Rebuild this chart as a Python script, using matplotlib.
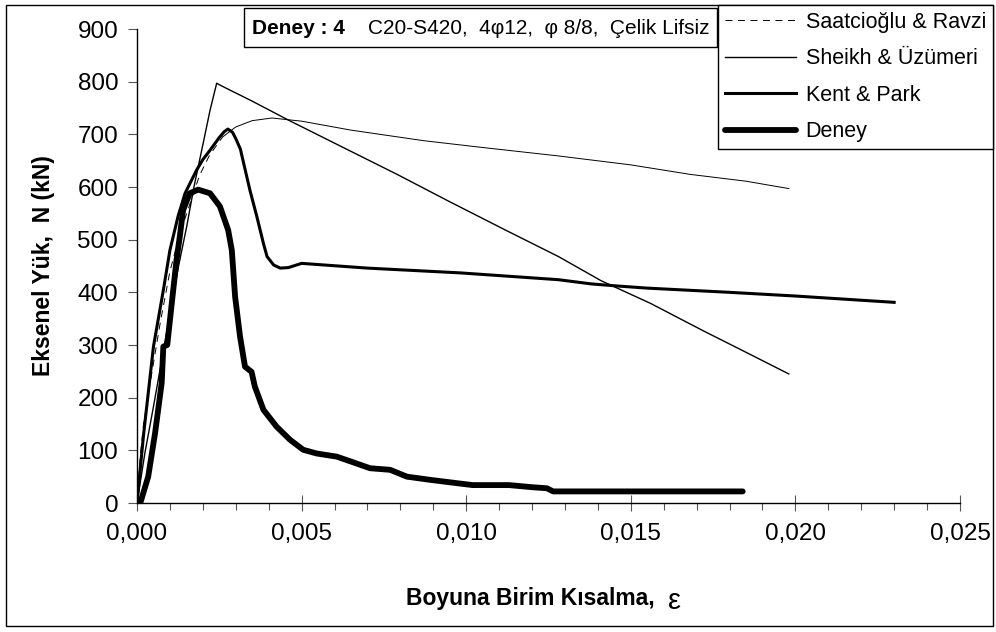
import matplotlib
matplotlib.use("Agg")
import matplotlib.pyplot as plt
from matplotlib.ticker import MultipleLocator, FuncFormatter
from matplotlib.patches import Rectangle

plt.rcParams['font.family'] = ['Liberation Sans', 'DejaVu Sans']
plt.rcParams['lines.scale_dashes'] = False

# Saatcioğlu & Ravzi
saat_x = [0, 0.0001, 0.0002, 0.0004, 0.0007, 0.001, 0.0013, 0.0015, 0.0019, 0.0022,
          0.0026, 0.003, 0.0035, 0.0041, 0.005, 0.0065, 0.0087, 0.0105, 0.0128,
          0.015, 0.0168, 0.0185, 0.0198]
saat_y = [0, 90, 150, 228, 340, 440, 510, 548, 622, 660,
          695, 714, 726, 731, 725, 708, 688, 675, 659,
          642, 624, 611, 597]
saat_dash_end = 10  # the first long segments show dashes, the rest looks solid

# Sheikh & Üzümeri
sheikh_x = [0, 0.00024, 0.0005, 0.00075, 0.001, 0.00126, 0.00151, 0.00173, 0.00201,
            0.00222, 0.00242, 0.0026, 0.0035, 0.0046, 0.0062, 0.0079, 0.0095,
            0.0112, 0.0128, 0.0141, 0.0156, 0.0172, 0.0186, 0.0198]
sheikh_y = [0, 95, 183, 271, 360, 449, 525, 600, 683,
            746, 797, 791, 763, 727, 677, 624, 572,
            518, 468, 422, 379, 327, 283, 245]

# Kent & Park
kent_x = [0, 0.0002, 0.0005, 0.0008, 0.001, 0.00125, 0.00146, 0.00165, 0.00181, 0.002,
          0.00222, 0.0025, 0.00265, 0.00276, 0.0029, 0.003, 0.00314, 0.00343, 0.00364,
          0.00384, 0.00395, 0.00415, 0.00435, 0.0046, 0.005, 0.007, 0.0098, 0.0128,
          0.0138, 0.0146, 0.0155, 0.018, 0.020, 0.023]
kent_y = [0, 130, 297, 404, 480, 545, 588, 612, 632, 652,
          670, 694, 705, 710, 704, 692, 672, 594, 544,
          493, 468, 452, 446, 447, 455, 446, 437, 424,
          416, 412, 408, 400, 393, 381]

# Deney
deney_x = [0.0001, 0.00034, 0.00055, 0.00075, 0.0008, 0.00092, 0.00095, 0.001, 0.0011,
           0.0012, 0.0013, 0.0014, 0.0016, 0.00186, 0.00222, 0.00252, 0.00277, 0.00288,
           0.00298, 0.00313, 0.00328, 0.00348, 0.00358, 0.00384, 0.00424, 0.00465,
           0.00505, 0.00546, 0.00607, 0.00667, 0.00708, 0.00769, 0.0082, 0.0089,
           0.0098, 0.0102, 0.0113, 0.012, 0.01245, 0.01264, 0.0184]
deney_y = [0, 50, 133, 228, 297, 300, 318, 347, 404,
           461, 506, 556, 588, 595, 588, 563, 518, 480,
           392, 316, 259, 249, 221, 177, 145, 120,
           101, 94, 88, 75, 66, 63, 50, 44,
           37, 34, 34, 30, 28, 22, 22]

W, H = 996, 632
fig = plt.figure(figsize=(W / 100, H / 100), dpi=100)
ax = fig.add_axes([137 / W, 1 - 503 / H, (960 - 137) / W, (503 - 29) / H])

ln_saat, = ax.plot(saat_x[:saat_dash_end + 1], saat_y[:saat_dash_end + 1], color='black',
                   lw=0.7, linestyle='--', dashes=(5, 4), label='Saatcioğlu & Ravzi')
ax.plot(saat_x[saat_dash_end:], saat_y[saat_dash_end:], color='black', lw=0.7)
ax.plot(sheikh_x, sheikh_y, color='black', lw=1.0, label='Sheikh & Üzümeri')
ax.plot(kent_x, kent_y, color='black', lw=2.2, label='Kent & Park')
ax.plot(deney_x, deney_y, color='black', lw=4.2, solid_capstyle='round',
        solid_joinstyle='round', label='Deney')

ax.set_xlim(0, 0.025)
ax.set_ylim(0, 900)
for s in ['top', 'right']:
    ax.spines[s].set_visible(False)
for s in ['left', 'bottom']:
    ax.spines[s].set_linewidth(1.0)
    ax.spines[s].set_color('black')

ax.xaxis.set_major_locator(MultipleLocator(0.005))
ax.xaxis.set_minor_locator(MultipleLocator(0.001))
ax.yaxis.set_major_locator(MultipleLocator(100))
ax.xaxis.set_major_formatter(FuncFormatter(lambda v, p: "{:.3f}".format(v).replace('.', ',')))
ax.tick_params(axis='x', which='major', direction='inout', length=11, width=0.8,
               color='#555555', labelsize=17.5, pad=9)
ax.tick_params(axis='x', which='minor', direction='out', length=5, width=0.8, color='#555555')
ax.tick_params(axis='y', which='major', direction='out', length=6.5, width=0.8,
               color='#555555', labelsize=17.5, pad=7)

ax.set_ylabel("Eksenel Yük,  N (kN)", fontsize=16.5, fontweight='bold')
ax.yaxis.set_label_coords(-0.1, 0.5)

fig.text(655 / W, 1 - 599 / H, "Boyuna Birim Kısalma,", ha='right', va='center',
         fontsize=16.5, fontweight='bold')
fig.text(668 / W, 1 - 601 / H, "ε", ha='left', va='center', fontsize=21)

# title box
fig.patches.append(Rectangle((244 / W, 1 - 47 / H), (717 - 244) / W, 39 / H,
                             transform=fig.transFigure, fill=False, lw=1.0,
                             edgecolor='black'))
fig.text(252 / W, 1 - 28 / H, "Deney : 4", ha='left', va='center', fontsize=15,
         fontweight='bold')
fig.text(368 / W, 1 - 28 / H, "C20-S420,  4φ12,  φ 8/8,  Çelik Lifsiz", ha='left',
         va='center', fontsize=15)

# outer chart border
fig.patches.append(Rectangle((6 / W, 1 - 626 / H), (993 - 6) / W, (626 - 5) / H,
                             transform=fig.transFigure, fill=False, lw=1.0,
                             edgecolor='black'))

handles, labels = ax.get_legend_handles_labels()
leg = fig.legend(handles, labels, loc='upper right', bbox_to_anchor=(993 / W, 1 - 5 / H),
                 fontsize=15.5, frameon=True, fancybox=False, edgecolor='black',
                 framealpha=1, borderaxespad=0, handlelength=3.3, handletextpad=0.45,
                 labelspacing=0.72, borderpad=0.32)
leg.get_frame().set_linewidth(1.0)

fig.savefig("out.png", dpi=100)
